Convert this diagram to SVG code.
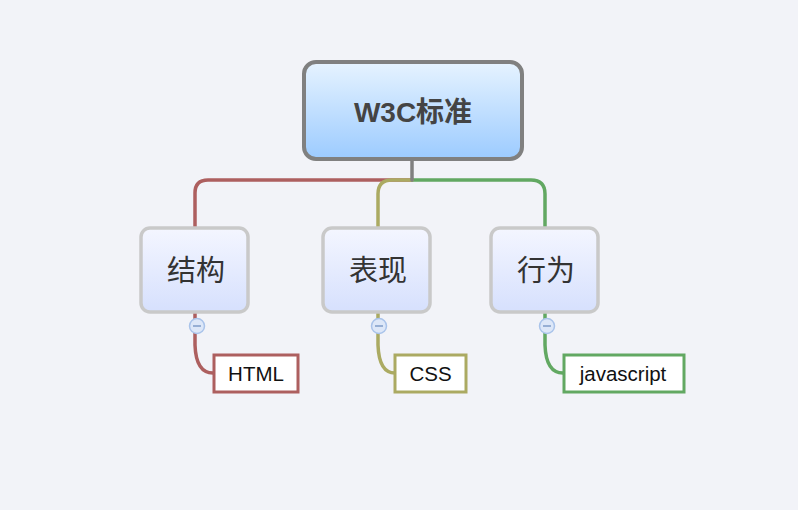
<svg xmlns="http://www.w3.org/2000/svg" width="798" height="510" viewBox="0 0 798 510">
<defs>
<linearGradient id="gRoot" x1="0" y1="0" x2="0" y2="1">
<stop offset="0" stop-color="#e6f3ff"/>
<stop offset="1" stop-color="#9ccbff"/>
</linearGradient>
<linearGradient id="gMain" x1="0" y1="0" x2="0" y2="1">
<stop offset="0" stop-color="#f4f6ff"/>
<stop offset="1" stop-color="#d6e0fd"/>
</linearGradient>
<style>
.br{fill:none;stroke-width:3.5;stroke-linecap:round}
.red{stroke:#ad5f5f}
.yel{stroke:#abaa62}
.grn{stroke:#62a862}
.main rect{fill:url(#gMain);stroke:#c9c9c9;stroke-width:3.5}
.main text{font-family:"Noto Sans CJK SC","Liberation Sans",sans-serif;font-size:29px;fill:#333;text-anchor:middle}
.leaf rect{fill:#fff;stroke-width:3}
.leaf text{font-family:"Liberation Sans",Arial,sans-serif;font-size:20.5px;fill:#111;text-anchor:middle}
.tog circle{fill:#dde7f8;stroke:#a9c3ea;stroke-width:1.5}
.tog line{stroke:#7f9cc8;stroke-width:1.5}
</style>
</defs>
<rect width="798" height="510" fill="#f2f3f8"/>
<g id="connectors">
<path class="br red" d="M412,180 H208 Q195,180 195,193 V228"/>
<path class="br grn" d="M412,180 H531 Q545,180 545,194 V228"/>
<path class="br yel" d="M412,180 H392 Q378,180 378,194 V228"/>
<path class="br" stroke="#808080" d="M412,159 V180"/>
<path class="br red" d="M195,312 V345 Q196,373 213,373"/>
<path class="br yel" d="M378,312 V345 Q379,373 395,373"/>
<path class="br grn" d="M545,312 V345 Q546,373 563,373"/>
</g>
<g id="root">
<rect x="304" y="62" width="218" height="97" rx="12" fill="url(#gRoot)" stroke="#808080" stroke-width="4"/>
<text x="413" y="122" text-anchor="middle" font-family="'Liberation Sans','Noto Sans CJK SC',sans-serif" font-size="28" font-weight="bold" fill="#444">W3C标准</text>
</g>
<g id="node-jiegou" class="main">
<rect x="141" y="228" width="107" height="84" rx="9"/>
<text x="196" y="281">结构</text>
</g>
<g id="node-biaoxian" class="main">
<rect x="323" y="228" width="107" height="84" rx="9"/>
<text x="378" y="281">表现</text>
</g>
<g id="node-xingwei" class="main">
<rect x="491" y="228" width="107" height="84" rx="9"/>
<text x="546" y="281">行为</text>
</g>
<g id="toggle-jiegou" class="tog"><circle cx="197" cy="326" r="7.5"/><line x1="193" y1="326" x2="201" y2="326"/></g>
<g id="toggle-biaoxian" class="tog"><circle cx="379" cy="326" r="7.5"/><line x1="375" y1="326" x2="383" y2="326"/></g>
<g id="toggle-xingwei" class="tog"><circle cx="547" cy="326" r="7.5"/><line x1="543" y1="326" x2="551" y2="326"/></g>
<g id="leaf-html" class="leaf">
<rect x="214" y="355" width="84" height="37" stroke="#ad5f5f"/>
<text x="256" y="381">HTML</text>
</g>
<g id="leaf-css" class="leaf">
<rect x="395" y="355" width="71" height="37" stroke="#abaa62"/>
<text x="430.5" y="381">CSS</text>
</g>
<g id="leaf-js" class="leaf">
<rect x="564" y="355" width="120" height="37" stroke="#62a862"/>
<text x="623" y="381">javascript</text>
</g>
</svg>
